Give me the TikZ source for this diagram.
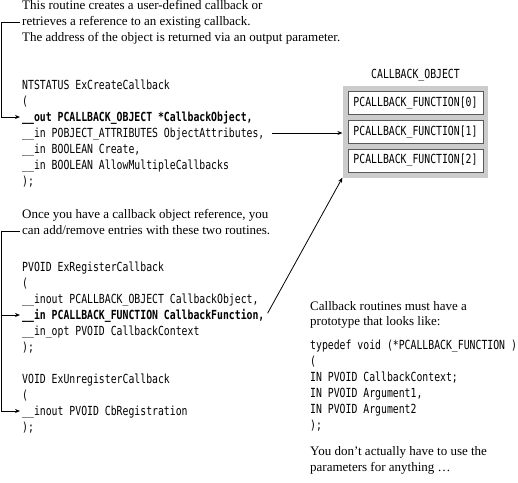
\documentclass[tikz,border=0pt]{standalone}
\usepackage{fontspec}
\setmainfont{Liberation Serif}
\newfontfamily\codefont[FakeStretch=0.785]{DejaVu Sans Mono}
\usetikzlibrary{positioning, fit, arrows.meta, backgrounds}

\begin{document}
\begin{tikzpicture}[
    x=1pt, y=-1pt,
    >={Stealth[length=5pt, width=4pt]},
    arrow/.style={
        ->,
        line width=0.8pt
    },
    prose/.style={
        anchor=base west,
        inner xsep=2pt,
        inner ysep=0pt,
        text height=10pt,
        text depth=3pt,
        font=\fontsize{13}{16}\selectfont
    },
    code/.style={
        anchor=base west,
        inner xsep=2pt,
        inner ysep=0pt,
        text height=10pt,
        text depth=2pt,
        font=\codefont\fontsize{12.5}{16}\selectfont
    },
    codebold/.style={
        code,
        font=\codefont\bfseries\fontsize{12.5}{16}\selectfont
    },
    slot/.style={
        rectangle,
        draw=black!65,
        line width=0.8pt,
        fill=white,
        minimum width=135pt,
        minimum height=23pt,
        inner sep=0pt,
        font=\codefont\fontsize{12.5}{16}\selectfont
    },
    holder/.style={
        rectangle,
        fill=black!20,
        inner sep=5pt
    }
]
    \useasboundingbox (0,0) rectangle (518,482);

    % ExCreateCallback
    \node[prose] (introA1) at (20,9.5) {This routine creates a user-defined callback or};
    \node[prose] (introA2) at (20,25.5) {retrieves a reference to an existing callback.};
    \node[prose] (introA3) at (20,41.5) {The address of the object is returned via an output parameter.};

    \node[code] (create) at (20,89) {NTSTATUS ExCreateCallback};
    \node[code] (createopen) at (20,105) {(};
    \node[codebold] (outarg) at (20,121) {\_\_out PCALLBACK\_OBJECT *CallbackObject,};
    \node[code] (attrarg) at (20,137) {\_\_in POBJECT\_ATTRIBUTES ObjectAttributes,};
    \node[code] (createarg) at (20,153) {\_\_in BOOLEAN Create,};
    \node[code] (multiarg) at (20,169) {\_\_in BOOLEAN AllowMultipleCallbacks};
    \node[code] (createclose) at (20,185) {);};

    % Register / unregister
    \node[prose] (introB1) at (20,218.5) {Once you have a callback object reference, you};
    \node[prose] (introB2) at (20,234.5) {can add/remove entries with these two routines.};

    \node[code] (register) at (20,271) {PVOID ExRegisterCallback};
    \node[code] (registeropen) at (20,287) {(};
    \node[code] (objarg) at (20,303) {\_\_inout PCALLBACK\_OBJECT CallbackObject,};
    \node[codebold] (fnarg) at (20,319) {\_\_in PCALLBACK\_FUNCTION CallbackFunction,};
    \node[code] (ctxarg) at (20,335) {\_\_in\_opt PVOID CallbackContext};
    \node[code] (registerclose) at (20,351) {);};

    \node[code] (unregister) at (20,383) {VOID ExUnregisterCallback};
    \node[code] (unregisteropen) at (20,399) {(};
    \node[code] (cbreg) at (20,415) {\_\_inout PVOID CbRegistration};
    \node[code] (unregisterclose) at (20,431) {);};

    % Callback prototype
    \node[prose] (introC1) at (308,310) {Callback routines must have a};
    \node[prose] (introC2) at (308,325) {prototype that looks like:};

    \node[code] (proto) at (308,349) {typedef void (*PCALLBACK\_FUNCTION )};
    \node[code] (protoopen) at (308,365) {(};
    \node[code] (protoctx) at (308,381) {IN PVOID CallbackContext;};
    \node[code] (protoarg1) at (308,397) {IN PVOID Argument1,};
    \node[code] (protoarg2) at (308,413) {IN PVOID Argument2};
    \node[code] (protoclose) at (308,429) {);};

    \node[prose] (introD1) at (308,455) {You don't actually have to use the};
    \node[prose] (introD2) at (308,471) {parameters for anything \ldots};

    % Callback object
    \node[slot] (slot0) at (415.5,103) {PCALLBACK\_FUNCTION[0]};
    \node[slot, below=5pt of slot0] (slot1) {PCALLBACK\_FUNCTION[1]};
    \node[slot, below=5pt of slot1] (slot2) {PCALLBACK\_FUNCTION[2]};

    \begin{scope}[on background layer]
        \node[holder, fit=(slot0) (slot2)] (objbox) {};
    \end{scope}
    \node[code, above=5pt of objbox] (objlabel) {CALLBACK\_OBJECT};

    % Connections
    \draw[arrow] (introA2.west) -- ++(-19,0) |- (outarg.west);
    \draw[arrow] (introB2.west) -- ++(-19,0) coordinate (railB) |- (fnarg.west);
    \draw[arrow] (railB) |- (cbreg.west);
    \draw[arrow, shorten <=5pt] (attrarg.east) -- (attrarg.east -| objbox.west);
    \draw[arrow, shorten <=2pt] (fnarg.east) -- (objbox.south west);

\end{tikzpicture}
\end{document}
